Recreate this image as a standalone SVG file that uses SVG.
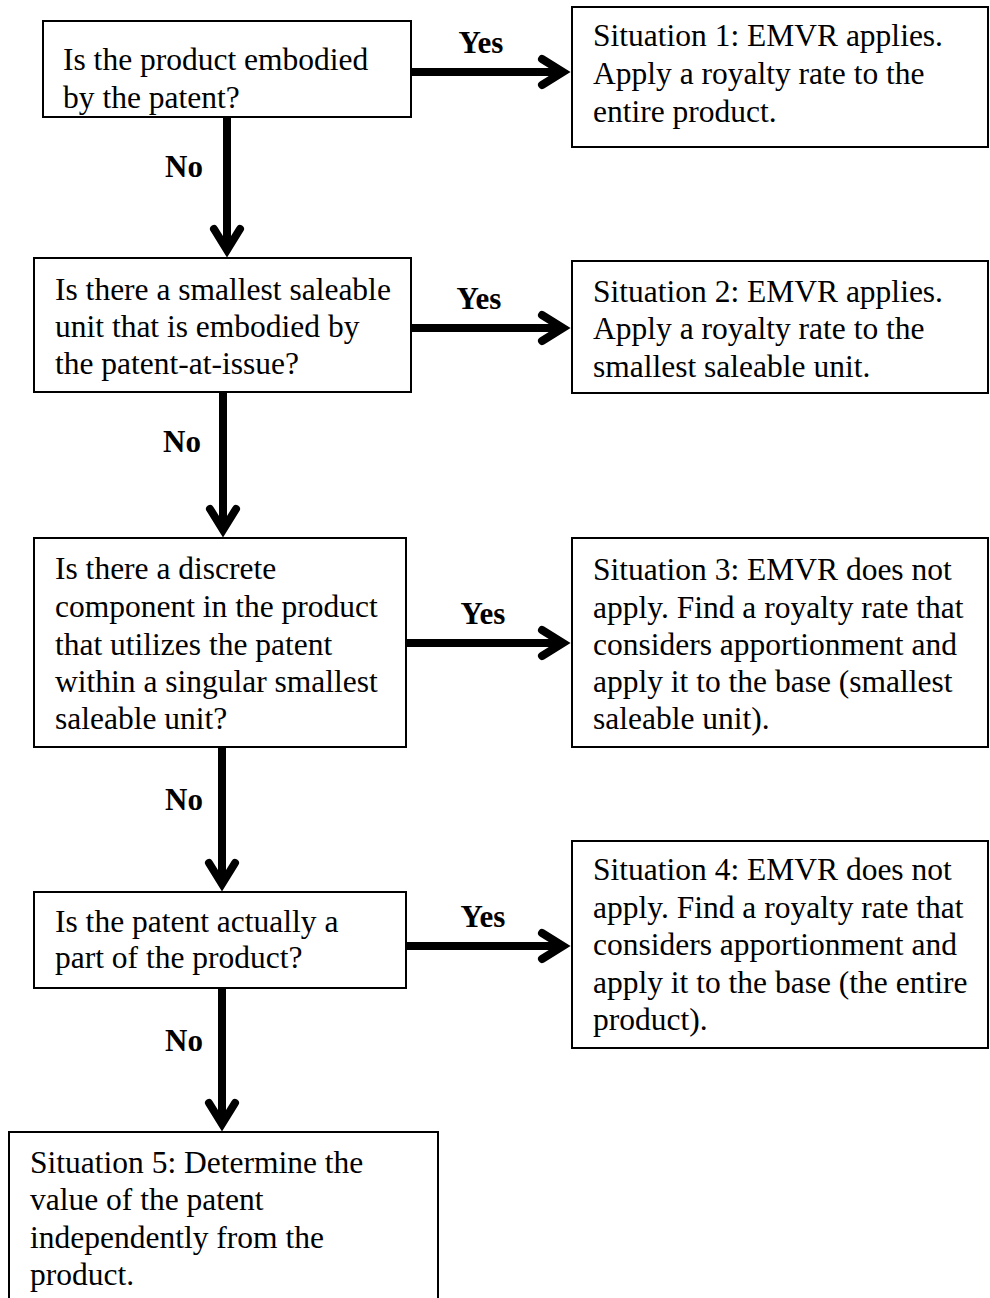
<svg xmlns="http://www.w3.org/2000/svg" width="990" height="1298" viewBox="0 0 990 1298">
<style>
.box{fill:#fff;stroke:#000;stroke-width:2}
.t{font-family:"Liberation Serif","Times New Roman",serif;font-size:31.5px;fill:#000}
.lbl{font-family:"Liberation Serif","Times New Roman",serif;font-size:31px;font-weight:bold;fill:#000}
.conn{stroke:#000;stroke-width:8;fill:none;marker-end:url(#chev)}
</style>
<defs>
<marker id="chev" markerUnits="userSpaceOnUse" markerWidth="60" markerHeight="60" viewBox="-30 -30 60 60" refX="0" refY="0" orient="auto" overflow="visible">
<path d="M -21 -13 L 0 0 L -21 13" fill="none" stroke="#000" stroke-width="8" stroke-linecap="round" stroke-linejoin="miter"/>
</marker>
</defs>
<rect width="990" height="1298" fill="#fff"/>
<g id="connectors">
<line class="conn" x1="227" y1="117" x2="227" y2="250"/>
<line class="conn" x1="223" y1="392" x2="223" y2="530"/>
<line class="conn" x1="222" y1="747" x2="222" y2="884"/>
<line class="conn" x1="222" y1="988" x2="222" y2="1124"/>
<line class="conn" x1="411" y1="72" x2="563" y2="72"/>
<line class="conn" x1="411" y1="328" x2="563" y2="328"/>
<line class="conn" x1="406" y1="643" x2="563" y2="643"/>
<line class="conn" x1="406" y1="946" x2="563" y2="946"/>
<text class="lbl" x="481" y="53" text-anchor="middle">Yes</text>
<text class="lbl" x="479" y="309" text-anchor="middle">Yes</text>
<text class="lbl" x="483" y="624" text-anchor="middle">Yes</text>
<text class="lbl" x="483" y="927" text-anchor="middle">Yes</text>
<text class="lbl" x="184" y="177" text-anchor="middle">No</text>
<text class="lbl" x="182" y="452" text-anchor="middle">No</text>
<text class="lbl" x="184" y="810" text-anchor="middle">No</text>
<text class="lbl" x="184" y="1051" text-anchor="middle">No</text>
</g>
<g id="q1">
<rect class="box" x="43" y="21" width="368" height="96"/>
<text class="t" x="63" y="70">Is the product embodied</text>
<text class="t" x="63" y="108">by the patent?</text>
</g>
<g id="s1">
<rect class="box" x="572" y="7" width="416" height="140"/>
<text class="t" x="593" y="46">Situation 1: EMVR applies.</text>
<text class="t" x="593" y="84">Apply a royalty rate to the</text>
<text class="t" x="593" y="122">entire product.</text>
</g>
<g id="q2">
<rect class="box" x="34" y="258" width="377" height="134"/>
<text class="t" x="55" y="300">Is there a smallest saleable</text>
<text class="t" x="55" y="337">unit that is embodied by</text>
<text class="t" x="55" y="374">the patent-at-issue?</text>
</g>
<g id="s2">
<rect class="box" x="572" y="261" width="416" height="132"/>
<text class="t" x="593" y="302">Situation 2: EMVR applies.</text>
<text class="t" x="593" y="339">Apply a royalty rate to the</text>
<text class="t" x="593" y="377">smallest saleable unit.</text>
</g>
<g id="q3">
<rect class="box" x="34" y="538" width="372" height="209"/>
<text class="t" x="55" y="579">Is there a discrete</text>
<text class="t" x="55" y="617">component in the product</text>
<text class="t" x="55" y="655">that utilizes the patent</text>
<text class="t" x="55" y="692">within a singular smallest</text>
<text class="t" x="55" y="729">saleable unit?</text>
</g>
<g id="s3">
<rect class="box" x="572" y="538" width="416" height="209"/>
<text class="t" x="593" y="580">Situation 3: EMVR does not</text>
<text class="t" x="593" y="618">apply. Find a royalty rate that</text>
<text class="t" x="593" y="655">considers apportionment and</text>
<text class="t" x="593" y="692">apply it to the base (smallest</text>
<text class="t" x="593" y="729">saleable unit).</text>
</g>
<g id="q4">
<rect class="box" x="34" y="892" width="372" height="96"/>
<text class="t" x="55" y="932">Is the patent actually a</text>
<text class="t" x="55" y="968">part of the product?</text>
</g>
<g id="s4">
<rect class="box" x="572" y="841" width="416" height="207"/>
<text class="t" x="593" y="880">Situation 4: EMVR does not</text>
<text class="t" x="593" y="918">apply. Find a royalty rate that</text>
<text class="t" x="593" y="955">considers apportionment and</text>
<text class="t" x="593" y="993">apply it to the base (the entire</text>
<text class="t" x="593" y="1030">product).</text>
</g>
<g id="s5">
<rect class="box" x="9" y="1132" width="429" height="190"/>
<text class="t" x="30" y="1173">Situation 5: Determine the</text>
<text class="t" x="30" y="1210">value of the patent</text>
<text class="t" x="30" y="1248">independently from the</text>
<text class="t" x="30" y="1285">product.</text>
</g>
</svg>
